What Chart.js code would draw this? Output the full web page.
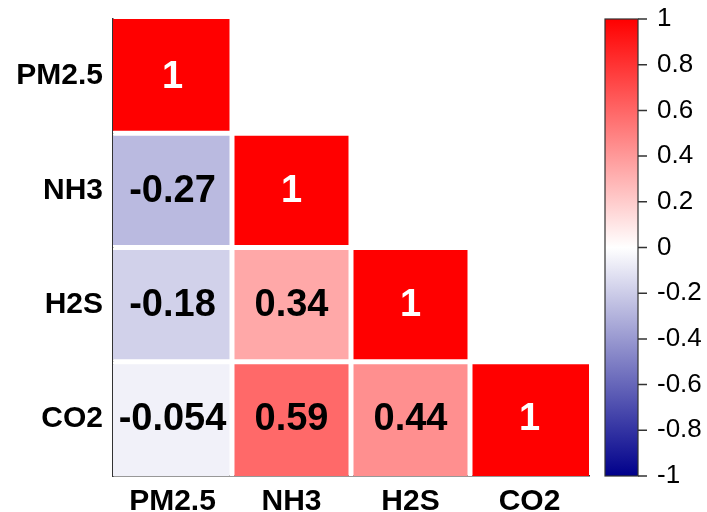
<!DOCTYPE html>
<html>
<head>
<meta charset="utf-8">
<script src="https://cdn.jsdelivr.net/npm/chart.js@4.4.1/dist/chart.umd.min.js"></script>
<style>
  html, body { margin: 0; padding: 0; background: #fff; }
  canvas { display: block; }
</style>
</head>
<body>
<canvas id="corr" width="707" height="512" style="width:707px;height:512px"></canvas>
<script>
// Variables shown on both axes (top-to-bottom on y, left-to-right on x)
const variables = ['PM2.5', 'NH3', 'H2S', 'CO2'];

// Lower-triangle correlation coefficients, one array per row
const rowPM25 = [1];
const rowNH3 = [-0.27, 1];
const rowH2S = [-0.18, 0.34, 1];
const rowCO2 = [-0.054, 0.59, 0.44, 1];
const corrRows = [rowPM25, rowNH3, rowH2S, rowCO2];

// Colour bar tick values
const colorbarTicks = [1, 0.8, 0.6, 0.4, 0.2, 0, -0.2, -0.4, -0.6, -0.8, -1];

const FONT = "'Liberation Sans', Arial, Helvetica, sans-serif";
const AXIS_COLOR = '#333333';
const RED = [255, 0, 0];
const WHITE = [255, 255, 255];
const NAVY = [0, 0, 139];

// Diverging blue - white - red scale for r in [-1, 1]
function corrColor(v) {
  const end = v >= 0 ? RED : NAVY;
  const t = Math.min(1, Math.abs(v));
  const c = WHITE.map((w, i) => Math.round(w + (end[i] - w) * t));
  return `rgb(${c[0]}, ${c[1]}, ${c[2]})`;
}

const nRows = variables.length;
const GAP = 2.5;

// Each row is a dataset of floating bars spanning one unit of the y scale
const datasets = corrRows.map((vals, r) => ({
  label: variables[r],
  corr: vals,
  data: variables.map((_, c) => (c < vals.length ? [nRows - 1 - r, nRows - r] : null)),
  backgroundColor: ctx => corrColor(vals[ctx.dataIndex]),
  borderColor: '#ffffff',
  borderWidth: ctx => ({
    top: r === 0 ? 0 : GAP,
    bottom: r === nRows - 1 ? 0 : GAP,
    left: ctx.dataIndex === 0 ? 0 : GAP,
    right: ctx.dataIndex === nRows - 1 ? 0 : GAP
  }),
  borderSkipped: false,
  inflateAmount: 0,
  grouped: false,
  barPercentage: 1,
  categoryPercentage: 1
}));

// Writes each coefficient in the middle of its cell
const cellLabels = {
  id: 'cellLabels',
  afterDatasetsDraw(chart) {
    const ctx = chart.ctx;
    ctx.save();
    ctx.font = `bold 38px ${FONT}`;
    ctx.textAlign = 'center';
    ctx.textBaseline = 'middle';
    chart.data.datasets.forEach((ds, di) => {
      const meta = chart.getDatasetMeta(di);
      meta.data.forEach((el, i) => {
        const v = ds.corr[i];
        if (v === undefined) return;
        const p = el.getCenterPoint();
        ctx.fillStyle = Math.abs(v) > 0.7 ? '#ffffff' : '#000000';
        ctx.fillText(String(v), p.x, p.y + 1);
      });
    });
    ctx.restore();
  }
};

// Gradient colour bar placed alongside the right-hand value axis
const colorBar = {
  id: 'colorBar',
  afterDraw(chart) {
    const scale = chart.scales.cb;
    const ctx = chart.ctx;
    const x0 = chart.chartArea.right + 16;
    const w = 33;
    const top = scale.getPixelForValue(1);
    const bottom = scale.getPixelForValue(-1);
    const grad = ctx.createLinearGradient(0, top, 0, bottom);
    grad.addColorStop(0, corrColor(1));
    grad.addColorStop(0.5, corrColor(0));
    grad.addColorStop(1, corrColor(-1));
    ctx.save();
    ctx.fillStyle = grad;
    ctx.fillRect(x0, top, w, bottom - top);
    ctx.strokeStyle = AXIS_COLOR;
    ctx.lineWidth = 1.2;
    ctx.strokeRect(x0, top, w, bottom - top);
    ctx.lineWidth = 1.5;
    ctx.beginPath();
    colorbarTicks.forEach(t => {
      const y = scale.getPixelForValue(t);
      ctx.moveTo(x0 + w, y);
      ctx.lineTo(x0 + w + 9, y);
    });
    ctx.stroke();
    ctx.restore();
  }
};

// Vertical axes: fixed width and no extra top/bottom padding
function fixVertical(width) {
  return s => {
    s.width = width;
    s.paddingTop = 0;
    s.paddingBottom = 0;
  };
}

new Chart(document.getElementById('corr'), {
  type: 'bar',
  data: { labels: variables, datasets },
  plugins: [cellLabels, colorBar],
  options: {
    responsive: false,
    maintainAspectRatio: false,
    animation: false,
    layout: { padding: { top: 19, left: 0, right: 0, bottom: 0 } },
    plugins: { legend: { display: false }, tooltip: { enabled: false } },
    scales: {
      x: {
        type: 'category',
        z: 1,
        grid: { display: false, drawTicks: false },
        border: { display: true, color: AXIS_COLOR, width: 1.5 },
        ticks: { color: '#000', padding: 8, font: { family: FONT, size: 30, weight: 'bold' } },
        afterFit(s) { s.height = 36; s.paddingLeft = 0; s.paddingRight = 0; }
      },
      y: {
        type: 'linear',
        position: 'left',
        z: 1,
        min: 0,
        max: nRows,
        grid: { display: false, drawTicks: false },
        border: { display: true, color: AXIS_COLOR, width: 1.5 },
        afterBuildTicks(s) {
          s.ticks = variables.map((_, i) => ({ value: i + 0.5 }));
        },
        ticks: {
          color: '#000',
          padding: 10,
          font: { family: FONT, size: 30, weight: 'bold' },
          callback: v => variables[nRows - 1 - Math.floor(v)]
        },
        afterFit: fixVertical(113)
      },
      cb: {
        type: 'linear',
        position: 'right',
        min: -1,
        max: 1,
        grid: { display: false, drawTicks: false },
        border: { display: false },
        afterBuildTicks(s) {
          s.ticks = colorbarTicks.map(v => ({ value: v }));
        },
        ticks: {
          color: '#000',
          padding: 68,
          font: { family: FONT, size: 26 },
          callback: v => String(Math.round(v * 10) / 10)
        },
        afterFit: fixVertical(118)
      }
    }
  }
});
</script>
</body>
</html>
